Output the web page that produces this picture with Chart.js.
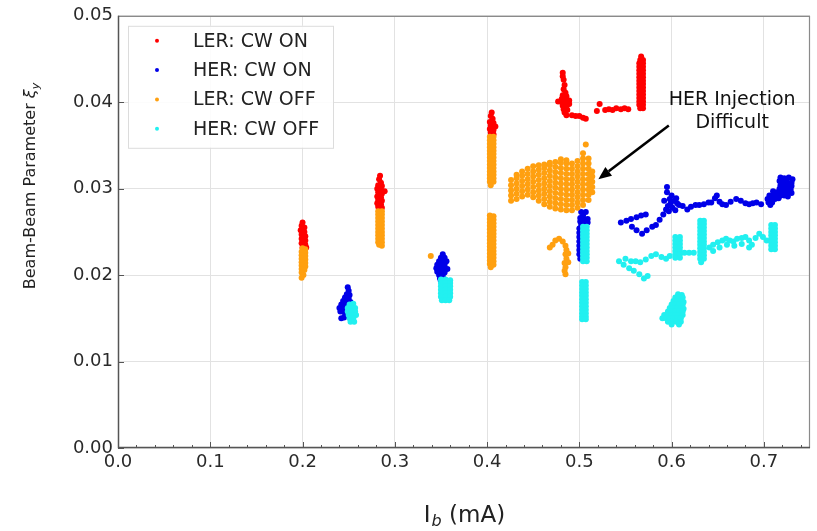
<!DOCTYPE html>
<html><head><meta charset="utf-8">
<script src="https://cdn.jsdelivr.net/npm/chart.js@4"></script>
<style>html,body{margin:0;padding:0;background:#fff;}canvas{display:block;}</style>
</head><body>
<canvas id="c" width="817" height="531"></canvas>
<script>
const SERIES_NAMES = ['LER: CW ON', 'HER: CW ON', 'LER: CW OFF', 'HER: CW OFF'];
const X_TITLE = ['I', 'b', ' (mA)'];
const Y_TITLE = ['Beam-Beam Parameter ', 'ξ', 'y'];
const NOTE_LINES = ['HER Injection', 'Difficult'];
const NOTE_TEXT_AT = [0.6656, 0.0403];
const NOTE_ARROW = [[0.597, 0.0373], [0.5206, 0.0311]];

const LER_ON = [
[0.200,0.0261],[0.199,0.0257],[0.202,0.0255],[0.198,0.0252],[0.202,0.0250],[0.199,0.0247],[0.203,0.0245],[0.199,0.0242],[0.203,0.0240],[0.199,0.0237],[0.203,0.0235],[0.200,0.0232],[0.204,0.0232],
[0.284,0.0315],[0.283,0.0311],[0.285,0.0307],[0.282,0.0304],[0.286,0.0303],[0.281,0.0300],[0.285,0.0299],[0.289,0.0297],[0.282,0.0296],[0.286,0.0294],[0.281,0.0291],[0.285,0.0290],[0.282,0.0287],[0.286,0.0286],[0.281,0.0283],[0.285,0.0282],[0.282,0.0279],[0.286,0.0278],[0.283,0.0276],
[0.405,0.0388],[0.404,0.0384],[0.406,0.0381],[0.403,0.0377],[0.407,0.0376],[0.404,0.0373],[0.409,0.0372],[0.403,0.0369],[0.407,0.0368],[0.404,0.0365],[0.407,0.0363],[0.404,0.0361],
[0.482,0.0434],[0.482,0.0430],[0.483,0.0426],[0.484,0.0420],[0.483,0.0415],[0.485,0.0411],[0.482,0.0408],[0.486,0.0407],[0.481,0.0404],[0.485,0.0403],[0.489,0.0402],[0.477,0.0401],[0.481,0.0400],[0.485,0.0399],[0.489,0.0398],[0.482,0.0396],[0.486,0.0395],[0.483,0.0392],[0.487,0.0391],[0.484,0.0388],[0.486,0.0385],
[0.492,0.0385],[0.496,0.0384],[0.500,0.0384],[0.504,0.0382],[0.507,0.0381],[0.519,0.0390],[0.522,0.0398],[0.528,0.0391],[0.532,0.0392],[0.536,0.0391],[0.540,0.0393],[0.545,0.0392],[0.549,0.0393],[0.553,0.0392],
[0.567,0.0453],[0.566,0.0449],[0.569,0.0449],[0.565,0.0445],[0.569,0.0445],[0.565,0.0441],[0.569,0.0441],[0.565,0.0437],[0.569,0.0437],[0.565,0.0433],[0.569,0.0433],[0.565,0.0429],[0.569,0.0429],[0.565,0.0425],[0.569,0.0425],[0.565,0.0421],[0.569,0.0421],[0.565,0.0417],[0.569,0.0417],[0.565,0.0413],[0.569,0.0413],[0.565,0.0409],[0.569,0.0409],[0.565,0.0405],[0.569,0.0405],[0.565,0.0401],[0.569,0.0401],[0.565,0.0397],[0.569,0.0397],[0.566,0.0393],[0.569,0.0393]
];

const HER_ON = [
[0.249,0.0186],[0.250,0.0182],[0.248,0.0178],[0.251,0.0177],[0.246,0.0174],[0.250,0.0173],[0.244,0.0170],[0.248,0.0169],[0.252,0.0169],[0.242,0.0166],[0.246,0.0165],[0.250,0.0165],[0.240,0.0162],[0.244,0.0161],[0.248,0.0161],[0.252,0.0162],[0.241,0.0158],[0.245,0.0157],[0.249,0.0157],[0.242,0.0150],[0.245,0.0151],
[0.352,0.0224],[0.350,0.0220],[0.354,0.0220],[0.348,0.0216],[0.352,0.0216],[0.356,0.0216],[0.346,0.0212],[0.350,0.0212],[0.354,0.0212],[0.345,0.0208],[0.349,0.0208],[0.353,0.0208],[0.357,0.0207],[0.346,0.0204],[0.350,0.0203],[0.354,0.0203],[0.348,0.0200],[0.352,0.0199],[0.349,0.0196],[0.350,0.0193],
[0.502,0.0273],[0.507,0.0273],[0.504,0.0269],[0.501,0.0266],[0.505,0.0265],[0.509,0.0265],[0.501,0.0262],[0.505,0.0261],[0.509,0.0261],[0.502,0.0258],[0.506,0.0258],[0.500,0.0254],[0.500,0.0249],[0.500,0.0244],[0.500,0.0239],[0.500,0.0234],[0.500,0.0229],[0.500,0.0224],[0.501,0.0219],
[0.545,0.0261],[0.551,0.0263],[0.556,0.0265],[0.562,0.0267],[0.567,0.0269],[0.572,0.0270],[0.557,0.0256],[0.562,0.0252],[0.568,0.0248],[0.573,0.0252],[0.579,0.0256],[0.583,0.0258],[0.587,0.0264],[0.591,0.0270],[0.594,0.0276],[0.596,0.0280],[0.595,0.0296],[0.595,0.0302],[0.598,0.0288],[0.600,0.0292],[0.603,0.0286],[0.606,0.0283],[0.608,0.0281],[0.612,0.0280],[0.617,0.0276],[0.621,0.0279],[0.626,0.0281],[0.630,0.0281],[0.635,0.0282],[0.640,0.0284],[0.643,0.0284],[0.647,0.0289],[0.649,0.0292],[0.652,0.0285],[0.655,0.0282],[0.659,0.0281],[0.664,0.0285],[0.670,0.0288],[0.675,0.0286],[0.680,0.0283],[0.684,0.0282],[0.688,0.0283],[0.692,0.0284],[0.697,0.0282],
[0.597,0.0274],[0.601,0.0278],[0.604,0.0275],[0.599,0.0283],[0.605,0.0289],[0.592,0.0286],
[0.718,0.0313],[0.722,0.0312],[0.727,0.0313],[0.731,0.0311],[0.717,0.0309],[0.721,0.0308],[0.725,0.0308],[0.730,0.0307],[0.718,0.0304],[0.722,0.0304],[0.726,0.0304],[0.730,0.0303],[0.717,0.0300],[0.721,0.0300],[0.725,0.0300],[0.729,0.0299],[0.710,0.0297],[0.714,0.0296],[0.718,0.0296],[0.722,0.0296],[0.726,0.0296],[0.730,0.0295],[0.706,0.0292],[0.710,0.0292],[0.714,0.0292],[0.718,0.0292],[0.722,0.0292],[0.726,0.0291],[0.704,0.0288],[0.708,0.0288],[0.712,0.0288],[0.716,0.0289],[0.705,0.0284],[0.709,0.0284],[0.707,0.0281]
];

const LER_OFF = [
[0.200,0.0231],[0.203,0.0230],[0.199,0.0227],[0.203,0.0226],[0.199,0.0223],[0.203,0.0222],[0.199,0.0219],[0.203,0.0218],[0.199,0.0215],[0.203,0.0214],[0.199,0.0211],[0.203,0.0210],[0.199,0.0207],[0.202,0.0206],[0.199,0.0203],[0.201,0.0200],[0.199,0.0197],
[0.282,0.0274],[0.286,0.0274],[0.282,0.0270],[0.286,0.0270],[0.282,0.0266],[0.286,0.0266],[0.282,0.0262],[0.286,0.0262],[0.282,0.0258],[0.286,0.0258],[0.282,0.0254],[0.286,0.0254],[0.282,0.0250],[0.286,0.0250],[0.282,0.0246],[0.286,0.0246],[0.282,0.0242],[0.286,0.0242],[0.282,0.0238],[0.286,0.0238],[0.283,0.0235],[0.286,0.0234],
[0.403,0.0360],[0.407,0.0360],[0.403,0.0356],[0.407,0.0356],[0.403,0.0352],[0.407,0.0352],[0.403,0.0348],[0.407,0.0348],[0.403,0.0344],[0.407,0.0344],[0.403,0.0340],[0.407,0.0340],[0.403,0.0336],[0.407,0.0336],[0.403,0.0332],[0.407,0.0332],[0.403,0.0328],[0.407,0.0328],[0.403,0.0324],[0.407,0.0324],[0.403,0.0320],[0.407,0.0320],[0.403,0.0316],[0.407,0.0316],[0.403,0.0312],[0.407,0.0312],[0.403,0.0308],[0.407,0.0308],[0.404,0.0304],
[0.403,0.0269],[0.407,0.0268],[0.403,0.0265],[0.407,0.0264],[0.403,0.0261],[0.407,0.0260],[0.403,0.0257],[0.407,0.0256],[0.403,0.0253],[0.407,0.0252],[0.403,0.0249],[0.407,0.0248],[0.403,0.0245],[0.407,0.0244],[0.403,0.0241],[0.407,0.0240],[0.403,0.0237],[0.407,0.0236],[0.403,0.0233],[0.407,0.0232],[0.403,0.0229],[0.407,0.0228],[0.403,0.0225],[0.407,0.0224],[0.403,0.0221],[0.407,0.0220],[0.403,0.0217],[0.407,0.0216],[0.403,0.0213],[0.407,0.0212],[0.404,0.0209],
[0.426,0.0286],[0.426,0.0292],[0.426,0.0298],[0.426,0.0304],[0.426,0.0310],
[0.432,0.0288],[0.432,0.0294],[0.432,0.0300],[0.432,0.0306],[0.432,0.0312],[0.432,0.0316],
[0.438,0.0291],[0.438,0.0297],[0.438,0.0303],[0.438,0.0309],[0.438,0.0315],[0.438,0.0320],
[0.444,0.0293],[0.444,0.0299],[0.444,0.0305],[0.444,0.0311],[0.444,0.0317],[0.444,0.0323],
[0.450,0.0290],[0.450,0.0296],[0.450,0.0302],[0.450,0.0308],[0.450,0.0314],[0.450,0.0320],[0.450,0.0326],
[0.456,0.0286],[0.456,0.0292],[0.456,0.0298],[0.456,0.0304],[0.456,0.0310],[0.456,0.0316],[0.456,0.0322],[0.456,0.0327],
[0.462,0.0282],[0.462,0.0288],[0.462,0.0294],[0.462,0.0300],[0.462,0.0306],[0.462,0.0312],[0.462,0.0318],[0.462,0.0324],[0.462,0.0328],
[0.468,0.0279],[0.468,0.0285],[0.468,0.0291],[0.468,0.0297],[0.468,0.0303],[0.468,0.0309],[0.468,0.0315],[0.468,0.0321],[0.468,0.0327],[0.468,0.0330],
[0.474,0.0277],[0.474,0.0283],[0.474,0.0289],[0.474,0.0295],[0.474,0.0301],[0.474,0.0307],[0.474,0.0313],[0.474,0.0319],[0.474,0.0325],[0.474,0.0331],
[0.480,0.0276],[0.480,0.0282],[0.480,0.0288],[0.480,0.0294],[0.480,0.0300],[0.480,0.0306],[0.480,0.0312],[0.480,0.0318],[0.480,0.0324],[0.480,0.0330],[0.480,0.0334],
[0.486,0.0275],[0.486,0.0281],[0.486,0.0287],[0.486,0.0293],[0.486,0.0299],[0.486,0.0305],[0.486,0.0311],[0.486,0.0317],[0.486,0.0323],[0.486,0.0329],[0.486,0.0333],
[0.492,0.0275],[0.492,0.0281],[0.492,0.0287],[0.492,0.0293],[0.492,0.0299],[0.492,0.0305],[0.492,0.0311],[0.492,0.0317],[0.492,0.0323],[0.492,0.0329],
[0.498,0.0278],[0.498,0.0284],[0.498,0.0290],[0.498,0.0296],[0.498,0.0302],[0.498,0.0308],[0.498,0.0314],[0.498,0.0320],[0.498,0.0326],[0.498,0.0332],
[0.504,0.0281],[0.504,0.0287],[0.504,0.0293],[0.504,0.0299],[0.504,0.0305],[0.504,0.0311],[0.504,0.0317],[0.504,0.0323],[0.504,0.0329],[0.504,0.0335],[0.504,0.0341],
[0.510,0.0287],[0.510,0.0293],[0.510,0.0299],[0.510,0.0305],[0.510,0.0311],[0.510,0.0317],[0.510,0.0323],[0.510,0.0329],[0.510,0.0335],
[0.514,0.0296],[0.514,0.0302],[0.514,0.0308],[0.514,0.0314],[0.514,0.0320],
[0.507,0.0351],[0.339,0.0222],
[0.468,0.0232],[0.471,0.0235],[0.474,0.0240],[0.478,0.0242],[0.482,0.0239],[0.485,0.0234],[0.486,0.0229],[0.485,0.0224],[0.486,0.0219],[0.484,0.0214],[0.485,0.0209],[0.484,0.0205],[0.485,0.0201],[0.488,0.0225],[0.488,0.0215]
];

const HER_OFF = [
[0.251,0.0166],[0.255,0.0167],[0.249,0.0162],[0.253,0.0162],[0.257,0.0162],[0.249,0.0158],[0.253,0.0158],[0.257,0.0158],[0.250,0.0154],[0.254,0.0154],[0.258,0.0154],[0.251,0.0150],[0.255,0.0150],[0.252,0.0146],[0.256,0.0146],
[0.350,0.0195],[0.355,0.0195],[0.360,0.0194],[0.350,0.0191],[0.355,0.0191],[0.360,0.0191],[0.350,0.0187],[0.355,0.0187],[0.360,0.0187],[0.350,0.0183],[0.355,0.0183],[0.360,0.0183],[0.350,0.0179],[0.355,0.0179],[0.360,0.0179],[0.350,0.0175],[0.355,0.0175],[0.360,0.0175],[0.351,0.0171],[0.355,0.0171],[0.359,0.0171],
[0.504,0.0256],[0.508,0.0256],[0.504,0.0252],[0.508,0.0252],[0.504,0.0248],[0.508,0.0248],[0.504,0.0244],[0.508,0.0244],[0.504,0.0240],[0.508,0.0240],[0.504,0.0236],[0.508,0.0236],[0.504,0.0232],[0.508,0.0232],[0.504,0.0228],[0.508,0.0228],[0.504,0.0224],[0.508,0.0224],[0.504,0.0220],[0.508,0.0220],[0.504,0.0216],[0.508,0.0216],
[0.503,0.0192],[0.507,0.0192],[0.503,0.0188],[0.507,0.0188],[0.503,0.0184],[0.507,0.0184],[0.503,0.0180],[0.507,0.0180],[0.503,0.0176],[0.507,0.0176],[0.503,0.0172],[0.507,0.0172],[0.503,0.0168],[0.507,0.0168],[0.503,0.0164],[0.507,0.0164],[0.503,0.0160],[0.507,0.0160],[0.503,0.0156],[0.507,0.0156],[0.503,0.0152],[0.507,0.0152],[0.503,0.0149],[0.507,0.0149],
[0.543,0.0216],[0.548,0.0212],[0.554,0.0208],[0.559,0.0205],[0.565,0.0201],[0.570,0.0196],[0.574,0.0199],[0.550,0.0219],[0.556,0.0216],[0.561,0.0216],[0.566,0.0215],[0.572,0.0218],[0.578,0.0222],[0.583,0.0224],[0.589,0.0221],[0.594,0.0219],[0.598,0.0222],
[0.604,0.0244],[0.609,0.0244],[0.604,0.0240],[0.609,0.0240],[0.604,0.0236],[0.609,0.0236],[0.604,0.0232],[0.609,0.0232],[0.604,0.0228],[0.609,0.0228],[0.604,0.0224],[0.609,0.0224],[0.604,0.0220],[0.609,0.0220],
[0.614,0.0226],[0.619,0.0226],[0.624,0.0226],
[0.631,0.0263],[0.635,0.0263],[0.631,0.0259],[0.635,0.0259],[0.631,0.0255],[0.635,0.0255],[0.631,0.0251],[0.635,0.0251],[0.631,0.0247],[0.635,0.0247],[0.631,0.0243],[0.635,0.0243],[0.631,0.0239],[0.635,0.0239],[0.631,0.0235],[0.635,0.0235],[0.631,0.0231],[0.635,0.0231],[0.631,0.0227],[0.635,0.0227],[0.631,0.0223],[0.635,0.0223],[0.631,0.0219],[0.635,0.0219],[0.632,0.0215],
[0.641,0.0232],[0.645,0.0235],[0.650,0.0238],[0.655,0.0240],[0.659,0.0242],[0.663,0.0240],[0.667,0.0239],[0.671,0.0242],[0.676,0.0243],[0.680,0.0244],[0.684,0.0240],[0.687,0.0235],[0.691,0.0243],[0.695,0.0248],[0.699,0.0244],[0.703,0.0240],
[0.645,0.0228],[0.652,0.0232],[0.660,0.0235],[0.668,0.0234],[0.676,0.0236],[0.684,0.0232],
[0.708,0.0258],[0.712,0.0258],[0.708,0.0254],[0.712,0.0254],[0.708,0.0250],[0.712,0.0250],[0.708,0.0246],[0.712,0.0246],[0.708,0.0242],[0.712,0.0242],[0.708,0.0238],[0.712,0.0238],[0.708,0.0234],[0.712,0.0234],[0.708,0.0230],[0.712,0.0230],
[0.607,0.0178],[0.611,0.0177],[0.604,0.0174],[0.608,0.0174],[0.612,0.0174],[0.602,0.0170],[0.606,0.0170],[0.610,0.0170],[0.613,0.0169],[0.600,0.0166],[0.604,0.0166],[0.608,0.0166],[0.612,0.0166],[0.598,0.0162],[0.602,0.0162],[0.606,0.0162],[0.610,0.0162],[0.613,0.0161],[0.596,0.0158],[0.600,0.0158],[0.604,0.0158],[0.608,0.0158],[0.612,0.0158],[0.592,0.0154],[0.596,0.0154],[0.600,0.0154],[0.604,0.0154],[0.608,0.0154],[0.612,0.0154],[0.590,0.0150],[0.594,0.0150],[0.598,0.0150],[0.602,0.0150],[0.606,0.0150],[0.610,0.0150],[0.596,0.0146],[0.600,0.0146],[0.605,0.0146],[0.610,0.0146],[0.600,0.0143],[0.608,0.0143]
];

const COLORS = ['#ff0000', '#0000e8', '#ffa010', '#22f0f0'];
const FONT = 'DejaVu Sans';
const SERIES = [LER_ON, HER_ON, LER_OFF, HER_OFF];

const toPts = arr => arr.map(p => ({x: p[0], y: p[1]}));

const decor = {
  id: 'decor',
  afterDraw(chart) {
    const {ctx, chartArea: a, scales: {x, y}} = chart;
    ctx.save();
    // inward ticks
    ctx.strokeStyle = '#555'; ctx.lineWidth = 1;
    x.ticks.forEach(t => {
      const px = Math.round(x.getPixelForValue(t.value)) + 0.5;
      ctx.beginPath(); ctx.moveTo(px, a.bottom); ctx.lineTo(px, a.bottom - 6); ctx.stroke();
    });
    for (let i = 1; i < 38; i++) {
      if (i % 5 === 0) continue;
      const px = Math.round(x.getPixelForValue(i * 0.02)) + 0.5;
      ctx.beginPath(); ctx.moveTo(px, a.bottom); ctx.lineTo(px, a.bottom - 3); ctx.stroke();
    }
    y.ticks.forEach(t => {
      const py = Math.round(y.getPixelForValue(t.value)) + 0.5;
      ctx.beginPath(); ctx.moveTo(a.left, py); ctx.lineTo(a.left + 6, py); ctx.stroke();
    });
    // frame
    ctx.strokeStyle = '#8a8a8a'; ctx.lineWidth = 1.2;
    ctx.beginPath(); ctx.moveTo(a.left, a.top + 0.5); ctx.lineTo(a.right - 0.5, a.top + 0.5); ctx.lineTo(a.right - 0.5, a.bottom); ctx.stroke();
    ctx.strokeStyle = '#555'; ctx.lineWidth = 1.5;
    ctx.beginPath(); ctx.moveTo(a.left + 0.5, a.top); ctx.lineTo(a.left + 0.5, a.bottom - 0.5); ctx.lineTo(a.right, a.bottom - 0.5); ctx.stroke();

    // legend
    const lx = a.left + 10, ly = a.top + 10;
    ctx.fillStyle = 'rgba(255,255,255,0.9)';
    ctx.fillRect(lx, ly, 205, 122);
    ctx.strokeStyle = '#dcdcdc'; ctx.lineWidth = 1;
    ctx.strokeRect(lx + 0.5, ly + 0.5, 205, 122);
    ctx.font = '19px "' + FONT + '"';
    ctx.textBaseline = 'middle'; ctx.textAlign = 'left';
    SERIES_NAMES.forEach((name, i) => {
      const ry = ly + 15 + i * 29.3;
      ctx.fillStyle = COLORS[i];
      ctx.beginPath(); ctx.arc(lx + 29, ry, 2, 0, Math.PI * 2); ctx.fill();
      ctx.fillStyle = '#222';
      ctx.fillText(name, lx + 65, ry + 1);
    });

    // annotation
    const tx = x.getPixelForValue(NOTE_TEXT_AT[0]);
    const ty = y.getPixelForValue(NOTE_TEXT_AT[1]);
    ctx.font = '19px "' + FONT + '"';
    ctx.textAlign = 'center'; ctx.fillStyle = '#111';
    NOTE_LINES.forEach((s, i) => ctx.fillText(s, tx, ty + i * 23));
    const x1 = x.getPixelForValue(NOTE_ARROW[0][0]), y1 = y.getPixelForValue(NOTE_ARROW[0][1]);
    const x2 = x.getPixelForValue(NOTE_ARROW[1][0]), y2 = y.getPixelForValue(NOTE_ARROW[1][1]);
    const ang = Math.atan2(y2 - y1, x2 - x1);
    const hl = 13, hw = 5.5;
    const bx = x2 - hl * Math.cos(ang), by = y2 - hl * Math.sin(ang);
    ctx.strokeStyle = '#000'; ctx.lineWidth = 2.6;
    ctx.beginPath(); ctx.moveTo(x1, y1); ctx.lineTo(bx, by); ctx.stroke();
    ctx.fillStyle = '#000';
    ctx.beginPath();
    ctx.moveTo(x2, y2);
    ctx.lineTo(bx + hw * Math.sin(ang), by - hw * Math.cos(ang));
    ctx.lineTo(bx - hw * Math.sin(ang), by + hw * Math.cos(ang));
    ctx.closePath(); ctx.fill();

    // x title
    ctx.fillStyle = '#222'; ctx.textAlign = 'left'; ctx.textBaseline = 'alphabetic';
    const big = '23px "' + FONT + '"', sub = 'italic 16px "' + FONT + '"';
    ctx.font = big; const w0 = ctx.measureText(X_TITLE[0]).width, w2 = ctx.measureText(X_TITLE[2]).width;
    ctx.font = sub; const w1 = ctx.measureText(X_TITLE[1]).width;
    let sx = (a.left + a.right) / 2 - (w0 + w1 + w2) / 2;
    const base = 522;
    ctx.font = big; ctx.fillText(X_TITLE[0], sx, base); sx += w0 + 1;
    ctx.font = sub; ctx.fillText(X_TITLE[1], sx, base + 4); sx += w1;
    ctx.font = big; ctx.fillText(X_TITLE[2], sx, base);

    // y title
    ctx.save();
    ctx.translate(35, 186);
    ctx.rotate(-Math.PI / 2);
    const f1 = '16px "' + FONT + '"', f2 = 'italic 16px "' + FONT + '"', f3 = 'italic 11px "' + FONT + '"';
    ctx.font = f1; const v0 = ctx.measureText(Y_TITLE[0]).width;
    ctx.font = f2; const v1 = ctx.measureText(Y_TITLE[1]).width;
    ctx.font = f3; const v2 = ctx.measureText(Y_TITLE[2]).width;
    let sy = -(v0 + v1 + v2) / 2;
    ctx.font = f1; ctx.fillText(Y_TITLE[0], sy, 0); sy += v0;
    ctx.font = f2; ctx.fillText(Y_TITLE[1], sy, 0); sy += v1;
    ctx.font = f3; ctx.fillText(Y_TITLE[2], sy, 4);
    ctx.restore();

    ctx.restore();
  }
};

const order = [3, 2, 1, 0];
new Chart(document.getElementById('c'), {
  type: 'scatter',
  data: {
    datasets: SERIES.map((s, i) => ({
      label: SERIES_NAMES[i],
      data: toPts(s),
      backgroundColor: COLORS[i],
      borderWidth: 0,
      pointRadius: 3,
      pointHoverRadius: 3,
      order: order[i]
    }))
  },
  options: {
    responsive: false,
    animation: false,
    devicePixelRatio: 1,
    layout: {padding: {left: 0, right: 7, top: 13, bottom: 0}},
    plugins: {legend: {display: false}, tooltip: {enabled: false}},
    scales: {
      x: {
        type: 'linear', min: 0, max: 0.75,
        afterFit(s) { s.height = 83; },
        grid: {color: '#e2e2e2', lineWidth: 1, drawTicks: false},
        border: {display: false},
        ticks: {stepSize: 0.1, includeBounds: false, padding: 4, color: '#2a2a2a',
          font: {family: FONT, size: 18}, callback: v => Number(v).toFixed(1), maxRotation: 0}
      },
      y: {
        type: 'linear', min: 0, max: 0.05,
        afterFit(s) { s.width = 118; },
        grid: {color: '#e2e2e2', lineWidth: 1, drawTicks: false},
        border: {display: false},
        ticks: {stepSize: 0.01, padding: 5, color: '#2a2a2a',
          font: {family: FONT, size: 18}, callback: v => Number(v).toFixed(2)}
      }
    }
  },
  plugins: [decor]
});
</script>
</body></html>
